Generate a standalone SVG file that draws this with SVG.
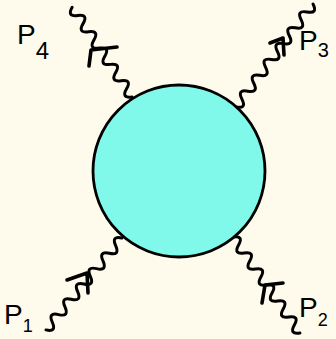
<svg xmlns="http://www.w3.org/2000/svg" width="336" height="339" viewBox="0 0 336 339">
<style>
.wave{fill:none;stroke:#000;stroke-width:3;stroke-linecap:round;stroke-linejoin:round}
.arr{fill:none;stroke:#000;stroke-width:3.6;stroke-linecap:round;stroke-linejoin:round}
.lbl{font-family:"Liberation Sans",Arial,sans-serif;font-size:28px;fill:#000}
</style>
<rect width="336" height="339" fill="#fefbec"/>
<g id="connectors">
<g id="p4-line">
<path class="wave" transform="translate(132,97) rotate(-123.7)" d="M0,0 q4.9,-10 9.8,0 t9.8,0 t9.8,0 t9.8,0 t9.8,0 t9.8,0 t9.8,0 t9.8,0 t9.8,0 t9.8,0 t9.8,0"/>
<path class="arr" d="M117,47 L91,50 L89,66"/>
</g>
<g id="p3-line">
<path class="wave" transform="translate(236,107) rotate(-53.2)" d="M0,0 q4.95,10 9.89,0 t9.89,0 t9.89,0 t9.89,0 t9.89,0 t9.89,0 t9.89,0 t9.89,0 t9.89,0 t9.89,0 t9.89,0 t9.89,0 t9.89,0"/>
<path class="arr" d="M270,43 L283,38 L284,55"/>
</g>
<g id="p1-line">
<path class="wave" transform="translate(122,238) rotate(129.6)" d="M0,0 q4.97,10 9.94,0 t9.94,0 t9.94,0 t9.94,0 t9.94,0 t9.94,0 t9.94,0 t9.94,0 t9.94,0 t9.94,0 t9.94,0 t9.94,0"/>
<path class="arr" d="M67,280 L87,273 L88,293"/>
</g>
<g id="p2-line">
<path class="wave" transform="translate(233,237) rotate(55.1)" d="M0,0 q4.88,-10 9.75,0 t9.75,0 t9.75,0 t9.75,0 t9.75,0 t9.75,0 t9.75,0 t9.75,0 t9.75,0 t9.75,0 t9.75,0 t9.75,0"/>
<path class="arr" d="M283,283 L265,285 L262,303"/>
</g>
</g>
<g id="blob">
<circle cx="179" cy="171" r="86" fill="#80f9ea" stroke="#000" stroke-width="2.8"/>
</g>
<g id="label-p4"><text class="lbl" x="17" y="44">P<tspan font-size="24" dy="15">4</tspan></text></g>
<g id="label-p3"><text class="lbl" x="299" y="50">P<tspan font-size="20" dy="7">3</tspan></text></g>
<g id="label-p1"><text class="lbl" x="4" y="324">P<tspan font-size="18" dy="8">1</tspan></text></g>
<g id="label-p2"><text class="lbl" x="299" y="317">P<tspan font-size="18" dy="9">2</tspan></text></g>
</svg>
